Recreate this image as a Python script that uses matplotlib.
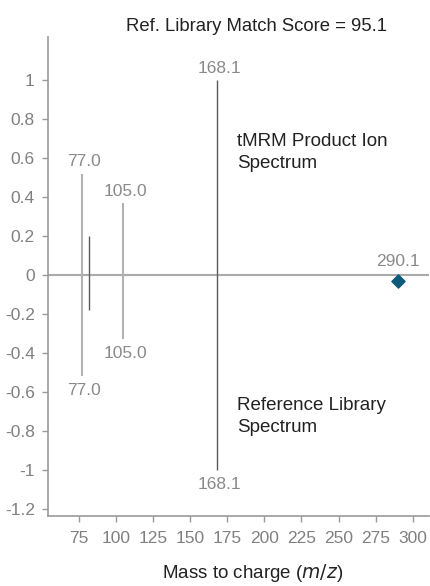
import matplotlib
matplotlib.use("Agg")
import matplotlib.pyplot as plt
from matplotlib.ticker import FixedLocator, FixedFormatter

# ---- data ----
tmrm_mz = [77.0, 82.0, 105.0, 168.1]
tmrm_int = [0.52, 0.20, 0.37, 1.00]
lib_mz = [77.0, 82.0, 105.0, 168.1]
lib_int = [-0.52, -0.18, -0.33, -1.00]
line_shade = ["light", "dark", "light", "dark"]
top_labels = ["77.0", None, "105.0", "168.1"]
bottom_labels = ["77.0", None, "105.0", "168.1"]
precursor_mz = [290.1]
precursor_int = [-0.03]
precursor_label = ["290.1"]
y_ticks = [1, 0.8, 0.6, 0.4, 0.2, 0, -0.2, -0.4, -0.6, -0.8, -1, -1.2]
y_tick_labels = ["1", "0.8", "0.6", "0.4", "0.2", "0", "-0.2", "-0.4", "-0.6", "-0.8", "-1", "-1.2"]
x_ticks = [75, 100, 125, 150, 175, 200, 225, 250, 275, 300]
x_tick_labels = ["75", "100", "125", "150", "175", "200", "225", "250", "275", "300"]

FONT = ["Liberation Sans Narrow", "Liberation Sans", "DejaVu Sans"]
plt.rcParams["font.family"] = FONT

W, H = 430, 586
fig = plt.figure(figsize=(W / 100, H / 100), dpi=100)
ax = fig.add_axes([48 / W, 1 - 516 / H, (429 - 48) / W, (516 - 37) / H])

colors = {"light": "#b3b3b3", "dark": "#5a5a5a"}
widths = {"light": 1.5, "dark": 1.0}

for mz, t, b, s in zip(tmrm_mz, tmrm_int, lib_int, line_shade):
    ax.vlines(mz, 0, t, color=colors[s], lw=widths[s], zorder=2)
    ax.vlines(mz, b, 0, color=colors[s], lw=widths[s], zorder=2)

ax.axhline(0, color="#aaaaaa", lw=1.5, zorder=1)

lab_col = "#8a8a8a"
LS = 12.5
for mz, t, lab in zip(tmrm_mz, tmrm_int, top_labels):
    if lab:
        ax.annotate(lab, (mz, t), xytext=(1.5, 3.0), textcoords="offset points",
                    ha="center", va="bottom", color=lab_col, fontsize=LS)
for mz, b, lab in zip(lib_mz, lib_int, bottom_labels):
    if lab:
        ax.annotate(lab, (mz, b), xytext=(1.5, -5), textcoords="offset points",
                    ha="center", va="top", color=lab_col, fontsize=LS)

ax.scatter(precursor_mz, precursor_int, marker="D", s=45, color="#0d5a7a", zorder=3)
for mz, v, lab in zip(precursor_mz, precursor_int, precursor_label):
    ax.annotate(lab, (mz, 0), xytext=(0, 4), textcoords="offset points",
                ha="center", va="bottom", color=lab_col, fontsize=LS)

TS = 13.5
ax.text(181.7, 0.73, "tMRM Product Ion\nSpectrum", ha="left", va="top",
        color="#222222", fontsize=TS, linespacing=1.4)
ax.text(181.7, -0.625, "Reference Library\nSpectrum", ha="left", va="top",
        color="#222222", fontsize=TS, linespacing=1.4)

ax.set_xlim(54.1, 311)
ax.set_ylim(-1.236, 1.2205)

ax.yaxis.set_major_locator(FixedLocator(y_ticks))
ax.yaxis.set_major_formatter(FixedFormatter(y_tick_labels))
ax.xaxis.set_major_locator(FixedLocator(x_ticks))
ax.xaxis.set_major_formatter(FixedFormatter(x_tick_labels))

for side in ["top", "right"]:
    ax.spines[side].set_visible(False)
for side in ["left", "bottom"]:
    ax.spines[side].set_color("#999999")
    ax.spines[side].set_linewidth(1.2)

ax.tick_params(axis="both", colors="#999999", length=4.5, width=1.0,
               labelcolor="#808080", labelsize=12.5)
ax.tick_params(axis="y", pad=5)
ax.tick_params(axis="x", pad=6)

fig.text(257 / W, 1 - 31 / H, "Ref. Library Match Score = 95.1", ha="center",
         va="baseline", color="#222222", fontsize=13.3)
fig.text(253 / W, 1 - 578 / H, r"Mass to charge ($\mathit{m/z}$)", ha="center",
         va="baseline", color="#222222", fontsize=13.5)

fig.savefig("out.png", dpi=100)
